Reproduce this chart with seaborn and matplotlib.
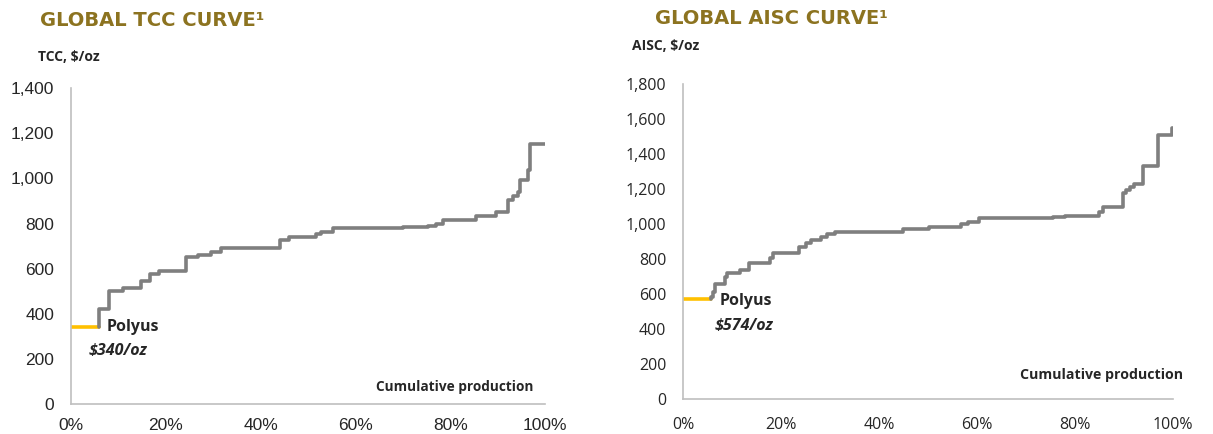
import matplotlib
matplotlib.use("Agg")
import matplotlib.pyplot as plt
import matplotlib.ticker as mticker
import numpy as np
import pandas as pd
import seaborn as sns

# ---- data (cumulative production %, $/oz) ----
tcc_x = [6.0, 6.0, 8.0, 10.9, 14.8, 16.7, 18.6, 24.3, 26.7, 29.6, 31.7, 44.1, 46.1,
         51.7, 52.8, 55.2, 70.0, 75.3, 77.0, 78.5, 85.5, 89.7, 92.2, 93.2, 94.3,
         94.7, 96.4, 96.9, 100.0]
tcc_y = [340, 422, 500, 515, 545, 575, 590, 652, 659, 674, 693, 729, 741,
         755, 763, 781, 785, 788, 800, 815, 835, 852, 904, 923, 941,
         993, 1037, 1151, 1151]
tcc_polyus_x = [0.0, 6.0]
tcc_polyus_y = [340, 340]

aisc_x = [5.8, 5.8, 6.1, 6.6, 8.5, 9.0, 11.6, 13.4, 17.7, 18.4, 23.7, 25.2, 26.2,
          28.2, 29.3, 31.1, 44.9, 50.3, 56.8, 58.2, 60.5, 75.5, 77.9, 85.0, 85.7,
          89.8, 90.5, 91.2, 92.0, 93.9, 96.9, 99.7, 100.0]
aisc_y = [574, 585, 613, 655, 699, 722, 737, 775, 804, 832, 870, 893, 909,
          928, 941, 956, 970, 985, 998, 1011, 1032, 1042, 1048, 1070, 1099,
          1175, 1194, 1213, 1229, 1333, 1508, 1550, 1550]
aisc_polyus_x = [0.0, 5.8]
aisc_polyus_y = [574, 574]

x_ticks = [0, 20, 40, 60, 80, 100]

GRAY = "#7f7f7f"
YELLOW = "#ffc000"
GOLD = "#8c7320"
AXIS = "#bfbfbf"
CALIBRI = ["Open Sans", "DejaVu Sans"]

sns.set_style("white")
plt.rcParams["font.family"] = ["Liberation Sans", "DejaVu Sans"]

fig = plt.figure(figsize=(12.13, 4.34), dpi=100)
ax1 = fig.add_axes([0.0585, 0.069, 0.3908, 0.728])
ax2 = fig.add_axes([0.563, 0.0806, 0.404, 0.7259])


def draw(ax, xs, ys, px, py, ymax, ystep, tick_size, tick_font, xpad):
    curve = pd.DataFrame({"x": xs, "y": ys})
    pol = pd.DataFrame({"x": px, "y": py})
    sns.lineplot(data=pol, x="x", y="y", ax=ax, color=YELLOW, lw=2.6,
                 drawstyle="steps-post", estimator=None, sort=False)
    sns.lineplot(data=curve, x="x", y="y", ax=ax, color=GRAY, lw=2.6,
                 drawstyle="steps-post", estimator=None, sort=False)
    ax.set_xlim(0, 100)
    ax.set_ylim(0, ymax)
    ax.set_xticks(x_ticks)
    ax.set_yticks(np.arange(0, ymax + 1, ystep))
    ax.xaxis.set_major_formatter(mticker.FuncFormatter(lambda v, p: f"{v:.0f}%"))
    ax.yaxis.set_major_formatter(mticker.FuncFormatter(lambda v, p: f"{v:,.0f}"))
    ax.set_xlabel("")
    ax.set_ylabel("")
    for s in ["top", "right"]:
        ax.spines[s].set_visible(False)
    for s in ["left", "bottom"]:
        ax.spines[s].set_color(AXIS)
        ax.spines[s].set_linewidth(1.2)
    ax.tick_params(axis="both", direction="out", length=4, width=1, color=AXIS,
                   labelsize=tick_size, labelcolor="#262626")
    ax.tick_params(axis="y", pad=8)
    ax.tick_params(axis="x", pad=xpad)
    for lab in ax.get_xticklabels() + ax.get_yticklabels():
        lab.set_family(tick_font)
    for sp in ax.spines.values():
        sp.set_clip_on(False)


draw(ax1, tcc_x, tcc_y, tcc_polyus_x, tcc_polyus_y, 1400, 200, 12.5,
     ["Liberation Sans", "DejaVu Sans"], 6)
draw(ax2, aisc_x, aisc_y, aisc_polyus_x, aisc_polyus_y, 1800, 200, 11.5, CALIBRI, 9)

# titles and axis captions
fig.text(40 / 1213, 1 - 20 / 434, "GLOBAL TCC CURVE¹", color=GOLD, fontsize=14,
         fontweight="bold", va="center", ha="left", family=["DejaVu Sans"])
fig.text(655 / 1213, 1 - 18 / 434, "GLOBAL AISC CURVE¹", color=GOLD, fontsize=14,
         fontweight="bold", va="center", ha="left", family=["DejaVu Sans"])
fig.text(38 / 1213, 1 - 57 / 434, "TCC, $/oz", fontsize=10, fontweight="bold",
         va="center", ha="left", family=CALIBRI)
fig.text(632 / 1213, 1 - 46 / 434, "AISC, $/oz", fontsize=10, fontweight="bold",
         va="center", ha="left", family=CALIBRI)

# annotations
ax1.text(7.6, 340, "Polyus", fontsize=11.5, fontweight="bold", va="center", ha="left",
         family=CALIBRI)
ax1.text(3.8, 235, "$340/oz", fontsize=11.5, fontweight="bold", style="italic",
         va="center", ha="left", family=CALIBRI)
ax1.text(97.5, 75, "Cumulative production", fontsize=9.8, fontweight="bold",
         va="center", ha="right", family=CALIBRI)

ax2.text(7.5, 562, "Polyus", fontsize=11.5, fontweight="bold", va="center", ha="left",
         family=CALIBRI)
ax2.text(6.5, 417, "$574/oz", fontsize=11.5, fontweight="bold", style="italic",
         va="center", ha="left", family=CALIBRI)
ax2.text(102, 137, "Cumulative production", fontsize=10.2, fontweight="bold",
         va="center", ha="right", family=CALIBRI)

fig.savefig("out.png", dpi=100)
